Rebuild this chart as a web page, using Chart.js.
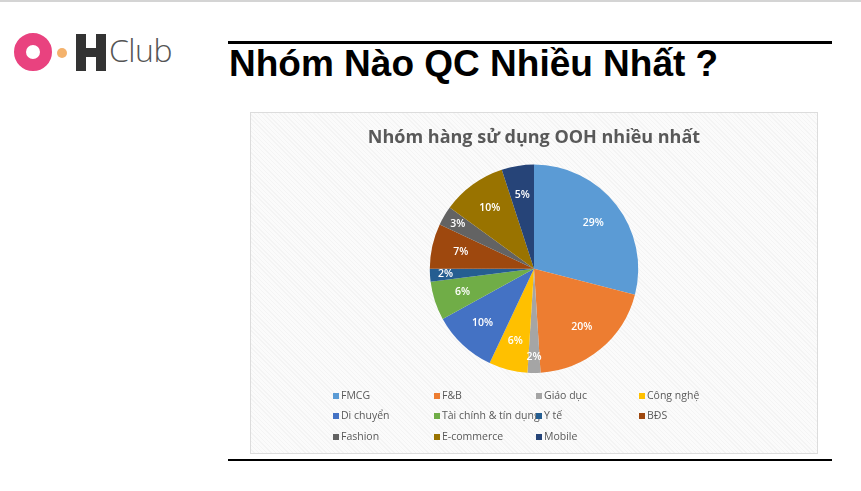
<!DOCTYPE html>
<html>
<head>
<meta charset="utf-8">
<script src="https://cdn.jsdelivr.net/npm/chart.js@4.4.1/dist/chart.umd.min.js"></script>
<style>
  body { margin: 0; width: 861px; height: 491px; background: #fff; position: relative; overflow: hidden; font-family: "Liberation Sans", Arial, sans-serif; }
  .topline { position: absolute; left: 0; top: 0; width: 861px; height: 2px; background: #d4d4d4; }
  .rule { position: absolute; left: 228px; width: 604px; background: #000; }
  h1 { position: absolute; left: 229px; top: 43px; margin: 0; font-size: 37px; font-weight: bold; color: #000; white-space: nowrap; }
  .box { position: absolute; left: 250px; top: 112px; width: 566px; height: 340px; border: 1px solid #dcdcdc;
         background: repeating-linear-gradient(45deg, #fbfbfb 0 2px, #f4f4f4 2px 3px); }
  canvas { position: absolute; left: 0; top: 0; }
  .logo-o { position: absolute; left: 14px; top: 33px; width: 14px; height: 14px; border: 12px solid #e9427f; border-radius: 50%; }
  .logo-dot { position: absolute; left: 57px; top: 48px; width: 10px; height: 10px; border-radius: 50%; background: #f4b26c; }
  .logo-h { position: absolute; left: 76px; top: 34px; width: 30px; height: 37px; background: #333; }
  .logo-h::before { content: ""; position: absolute; left: 10px; top: 0; width: 10px; height: 14px; background: #fff; }
  .logo-h::after { content: ""; position: absolute; left: 10px; bottom: 0; width: 10px; height: 14px; background: #fff; }
  .arc { position: absolute; left: 60px; top: 36px; width: 28px; height: 32px; border-radius: 50%; border: 4px solid transparent; border-right-color: #e8704a; }
  .club { position: absolute; left: 109px; top: 28px; font-family: "Open Sans", sans-serif; font-weight: 300; font-size: 32px; color: #555; letter-spacing: -0.5px; }
</style>
</head>
<body>
<div class="topline"></div>
<div class="logo-o"></div>
<div class="logo-dot"></div>
<div class="arc"></div>
<div class="logo-h"></div>
<div class="club">Club</div>
<div class="rule" style="top:41px;height:3px"></div>
<h1>Nhóm Nào QC Nhiều Nhất ?</h1>
<div class="box"><canvas id="c" width="566" height="340"></canvas></div>
<div class="rule" style="top:459px;height:2px"></div>
<script>
const chartTitle = "Nhóm hàng sử dụng OOH nhiều nhất";
const categories = ["FMCG", "F&B", "Giáo dục", "Công nghệ", "Di chuyển", "Tài chính & tín dụng", "Y tế", "BĐS", "Fashion", "E-commerce", "Mobile"];
const shares = [29, 20, 2, 6, 10, 6, 2, 7, 3, 10, 5];
const sliceColors = ["#5b9bd5", "#ed7d31", "#a5a5a5", "#ffc000", "#4472c4", "#70ad47", "#255e91", "#9e480e", "#636363", "#997300", "#264478"];

// white % labels inside the slices
const sliceLabels = {
  id: "sliceLabels",
  afterDatasetsDraw(chart) {
    const ctx = chart.ctx;
    const meta = chart.getDatasetMeta(0);
    ctx.save();
    ctx.fillStyle = "#fff";
    ctx.font = "600 10.5px 'Open Sans', sans-serif";
    ctx.textAlign = "center";
    ctx.textBaseline = "middle";
    meta.data.forEach((arc, i) => {
      const p = arc.getProps(["x", "y", "startAngle", "endAngle", "outerRadius"], true);
      const mid = (p.startAngle + p.endAngle) / 2;
      const r = p.outerRadius * (shares[i] < 4 ? 0.85 : 0.72);
      ctx.fillText(shares[i] + "%", p.x + Math.cos(mid) * r, p.y + Math.sin(mid) * r);
    });
    ctx.restore();
  }
};

// Excel style legend: 4 columns grid under the pie
const gridLegend = {
  id: "gridLegend",
  afterDraw(chart) {
    const ctx = chart.ctx;
    const colX = [85, 186, 288, 391];
    const rowY = [283, 303, 324];
    ctx.save();
    ctx.font = "10.5px 'Open Sans', sans-serif";
    ctx.textBaseline = "middle";
    categories.forEach((name, i) => {
      const x = colX[i % 4], y = rowY[Math.floor(i / 4)];
      ctx.fillStyle = sliceColors[i];
      ctx.fillRect(x - 3, y - 3, 6, 6);
      ctx.fillStyle = "#595959";
      ctx.fillText(name, x + 5, y);
    });
    ctx.restore();
  }
};

new Chart(document.getElementById("c"), {
  type: "pie",
  data: {
    labels: categories,
    datasets: [{ data: shares, backgroundColor: sliceColors, borderWidth: 0 }]
  },
  options: {
    responsive: false,
    animation: false,
    layout: { padding: { top: 0, bottom: 80 } },
    plugins: {
      legend: { display: false },
      tooltip: { enabled: false },
      title: {
        display: true,
        text: chartTitle,
        color: "#595959",
        font: { family: "'Open Sans', sans-serif", size: 18, weight: "bold", lineHeight: 1.2 },
        padding: { top: 14, bottom: 16 }
      }
    }
  },
  plugins: [sliceLabels, gridLegend]
});
</script>
</body>
</html>
